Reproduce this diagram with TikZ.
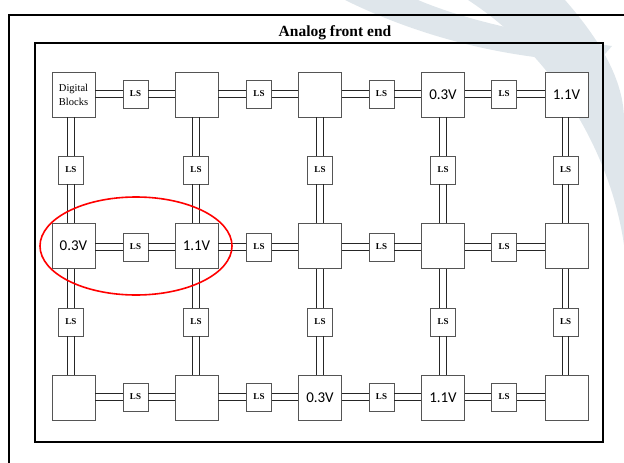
\documentclass[tikz,border=0pt]{standalone}
\usepackage{fontspec}
\setmainfont{Liberation Serif}
\newfontfamily\calib{Carlito}
\usetikzlibrary{calc}
\definecolor{wmark}{HTML}{DFE6EB}
\definecolor{boxline}{HTML}{555555}
\newcommand\hpipe[2]{%
  \draw[pipeline] ($(#1)+(0,-3.2)$) -- ($(#2)+(0,-3.2)$);
  \draw[pipeline] ($(#1)+(0,3.2)$) -- ($(#2)+(0,3.2)$);}
\newcommand\vpipe[2]{%
  \draw[pipeline] ($(#1)+(-3.2,0)$) -- ($(#2)+(-3.2,0)$);
  \draw[pipeline] ($(#1)+(3.2,0)$) -- ($(#2)+(3.2,0)$);}
\begin{document}
\begin{tikzpicture}[x=1pt,y=-1pt,
  bigblock/.style={draw=boxline, line width=0.9pt, minimum width=43pt, minimum height=45pt, inner sep=0pt, fill=white, font=\calib\fontsize{15}{18}\selectfont},
  lsbox/.style={draw=boxline, line width=0.9pt, minimum width=25pt, minimum height=28pt, inner sep=0pt, fill=white, font=\bfseries\fontsize{9}{10}\selectfont},
  pipeline/.style={draw=black!85, line width=0.9pt},
  frame/.style={draw=black, line width=2pt}]
\useasboundingbox (0,0) rectangle (624,463);
% watermark
\fill[wmark] (345,0) -- (418,0) .. controls (470,22) and (540,36) .. (612,46) -- (598,62) .. controls (520,60) and (430,42) .. (345,0) -- cycle;
\fill[wmark] (468,0) -- (565,0) .. controls (600,40) and (624,80) .. (624,120) -- (624,245) .. controls (612,160) and (560,60) .. (468,0) -- cycle;
% frames
\draw[frame] (9,470) -- (9,15) -- (630,15);
\draw[frame] (35,43) rectangle (603,442);
\node[font=\bfseries\fontsize{15.5}{18}\selectfont, anchor=base] (title) at (335,36) {Analog front end};
% big blocks
\node[bigblock, align=center, font=\fontsize{10.5}{14}\selectfont] (b11) at (73.5,94.5) {Digital\\Blocks};
\node[bigblock] (b12) at (196.5,94.5) {};
\node[bigblock] (b13) at (320,94.5) {};
\node[bigblock] (b14) at (443,94.5) {0.3V};
\node[bigblock] (b15) at (566.5,94.5) {1.1V};
\node[bigblock] (b21) at (73.5,246) {0.3V};
\node[bigblock] (b22) at (196.5,246) {1.1V};
\node[bigblock] (b23) at (320,246) {};
\node[bigblock] (b24) at (443,246) {};
\node[bigblock] (b25) at (566.5,246) {};
\node[bigblock] (b31) at (73.5,397.5) {};
\node[bigblock] (b32) at (196.5,397.5) {};
\node[bigblock] (b33) at (320,397.5) {0.3V};
\node[bigblock] (b34) at (443,397.5) {1.1V};
\node[bigblock] (b35) at (566.5,397.5) {};
% horizontal LS
\foreach \r/\y in {1/94,2/247,3/397}{
  \node[lsbox] (h\r1) at (135.5,\y) {LS};
  \node[lsbox] (h\r2) at (259,\y) {LS};
  \node[lsbox] (h\r3) at (381.5,\y) {LS};
  \node[lsbox] (h\r4) at (504,\y) {LS};
}
% vertical LS
\foreach \r/\y in {1/170,2/322}{
  \node[lsbox] (v\r1) at (71,\y) {LS};
  \node[lsbox] (v\r2) at (196,\y) {LS};
  \node[lsbox] (v\r3) at (320,\y) {LS};
  \node[lsbox] (v\r4) at (443,\y) {LS};
  \node[lsbox] (v\r5) at (565.5,\y) {LS};
}
% horizontal pipes
\foreach \r in {1,2,3}{
  \foreach \c/\n in {1/2,2/3,3/4,4/5}{
    \hpipe{b\r\c.east |- h\r\c}{h\r\c.west}
    \hpipe{h\r\c.east}{b\r\n.west |- h\r\c}
  }
}
% vertical pipes
\foreach \c in {1,2,3,4,5}{
  \vpipe{v1\c |- b1\c.south}{v1\c.north}
  \vpipe{v1\c.south}{v1\c |- b2\c.north}
  \vpipe{v2\c |- b2\c.south}{v2\c.north}
  \vpipe{v2\c.south}{v2\c |- b3\c.north}
}
% highlight
\draw[red, line width=1.6pt] (136,246) ellipse [x radius=96, y radius=49];
\end{tikzpicture}
\end{document}
